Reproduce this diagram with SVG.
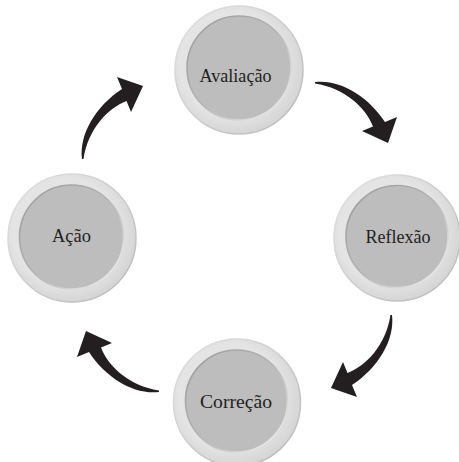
<svg xmlns="http://www.w3.org/2000/svg" xmlns:xlink="http://www.w3.org/1999/xlink" width="459" height="462" viewBox="0 0 459 462">
  <style>
    .lbl { font-family: "Liberation Serif", "Times New Roman", serif; font-size: 19px; fill: #231f20; text-anchor: middle; }
    .outer { fill: url(#ringFill); stroke: url(#ringEdge); stroke-width: 1.5; }
    .inner { fill: #bdbdbe; stroke: url(#innerEdge); stroke-width: 1.6; }
    .arrow { fill: #231f20; }
  </style>
  <defs>
    <radialGradient id="ringFill" cx="0.45" cy="0.45" r="0.55">
      <stop offset="0.75" stop-color="#e4e4e4"/>
      <stop offset="1" stop-color="#d6d6d6"/>
    </radialGradient>
    <linearGradient id="ringEdge" x1="0" y1="0" x2="1" y2="1">
      <stop offset="0" stop-color="#e2e2e2"/>
      <stop offset="1" stop-color="#b8b8b8"/>
    </linearGradient>
    <linearGradient id="innerEdge" x1="0" y1="0" x2="1" y2="1">
      <stop offset="0" stop-color="#999999"/>
      <stop offset="0.5" stop-color="#b4b4b4"/>
      <stop offset="1" stop-color="#f8f8f8"/>
    </linearGradient>
    <path id="curvedArrow" class="arrow" d="M315,82 C340,79 368,96 385,122 L397,117 L388,143 L362,131 L373,126.5 C366,108 345,88 315,83.5 Z"/>
  </defs>

  <rect x="0" y="0" width="459" height="462" fill="#ffffff"/>

  <g id="connectors">
    <use xlink:href="#curvedArrow" href="#curvedArrow"/>
    <use xlink:href="#curvedArrow" href="#curvedArrow" transform="rotate(90 237 237)"/>
    <use xlink:href="#curvedArrow" href="#curvedArrow" transform="rotate(180 237 237)"/>
    <use xlink:href="#curvedArrow" href="#curvedArrow" transform="rotate(270 237 237)"/>
  </g>

  <g id="node-avaliacao">
    <circle class="outer" cx="239" cy="70" r="64"/>
    <circle class="inner" cx="239" cy="68" r="52"/>
    <text class="lbl" x="235.5" y="82" textLength="72" lengthAdjust="spacingAndGlyphs">Avaliação</text>
  </g>

  <g id="node-reflexao">
    <circle class="outer" cx="397" cy="238" r="63"/>
    <circle class="inner" cx="397" cy="236.5" r="51"/>
    <text class="lbl" x="398" y="243" textLength="65" lengthAdjust="spacingAndGlyphs">Reflexão</text>
  </g>

  <g id="node-correcao">
    <circle class="outer" cx="237" cy="402.5" r="63.5"/>
    <circle class="inner" cx="236.5" cy="401" r="51"/>
    <text class="lbl" x="236" y="408" textLength="72" lengthAdjust="spacingAndGlyphs">Correção</text>
  </g>

  <g id="node-acao">
    <circle class="outer" cx="72" cy="238" r="64"/>
    <circle class="inner" cx="71.5" cy="237" r="52"/>
    <text class="lbl" x="71.5" y="242" textLength="39" lengthAdjust="spacingAndGlyphs">Ação</text>
  </g>
</svg>
